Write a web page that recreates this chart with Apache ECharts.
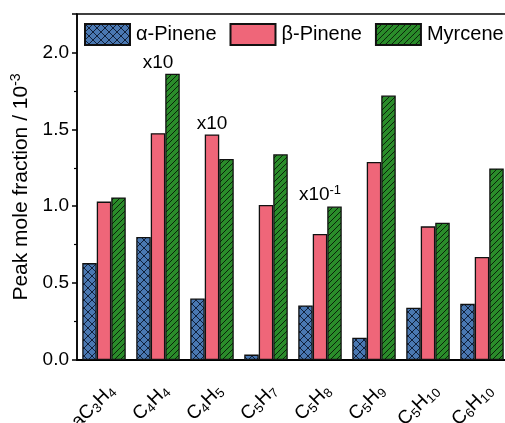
<!DOCTYPE html>
<html><head><meta charset="utf-8">
<script src="https://cdn.jsdelivr.net/npm/echarts@6/dist/echarts.min.js"></script>
<style>html,body{margin:0;padding:0;background:#fff}#c{width:505px;height:423px}</style>
</head><body><div id="c"></div>
<script>
const categories = ['aC{sub|3}H{sub|4}','C{sub|4}H{sub|4}','C{sub|4}H{sub|5}','C{sub|5}H{sub|7}','C{sub|5}H{sub|8}','C{sub|5}H{sub|9}','C{sub|5}H{sub|10}','C{sub|6}H{sub|10}'];
const alphaPinene = [0.63, 0.80, 0.40, 0.035, 0.355, 0.145, 0.34, 0.365];
const betaPinene  = [1.03, 1.475, 1.467, 1.008, 0.82, 1.288, 0.869, 0.67];
const myrcene     = [1.057, 1.862, 1.307, 1.338, 0.998, 1.72, 0.893, 1.246];
const yTicks = [0, 0.5, 1.0, 1.5, 2.0];
// annotations: [series, categoryIndex, text]
const notes = [['myrcene',1,'x10'],['beta',2,'x10'],['myrcene',4,'x10{sup|-1}']];
const FONT = 'Liberation Sans, Arial';

function pattern(bg, fg, cross, step){
  const c = document.createElement('canvas');
  c.width = step; c.height = step;
  const g = c.getContext('2d');
  g.fillStyle = bg; g.fillRect(0,0,step,step);
  g.strokeStyle = fg; g.lineWidth = 1;
  g.beginPath();
  for (let k=-1;k<=1;k++){
    g.moveTo(k*step, step); g.lineTo(k*step+step, 0);
    if (cross){ g.moveTo(k*step, 0); g.lineTo(k*step+step, step); }
  }
  g.stroke();
  return {image: c, repeat: 'repeat'};
}
const blueFill = pattern('#4a78b2', '#10203a', true, 8);
const greenFill = pattern('#2a8c2a', '#0a220a', false, 6);
const pinkFill = '#ef6679';

function mk(vals, key){
  return vals.map((v,i)=>{
    const n = notes.find(a=>a[0]===key && a[1]===i);
    if(!n) return v;
    return {value:v, label:{show:true, position:'top', formatter:n[2], distance:1,
      offset:[key==='myrcene'?-14.5:0,0], fontSize:19, color:'#000', fontFamily:FONT,
      rich:{sup:{fontSize:13, verticalAlign:'top', padding:[0,0,9,0], color:'#000', fontFamily:FONT}}}};
  });
}
const sty = c => ({color:c, borderColor:'#111', borderWidth:1.3});
const chart = echarts.init(document.getElementById('c'), null, {renderer:'canvas'});
chart.setOption({
  animation:false,
  textStyle:{fontFamily:FONT},
  grid:{left:77, top:14, width:432, height:346, outerBoundsMode:'none', containLabel:false,
    show:true, borderColor:'#000', borderWidth:1.5, backgroundColor:'transparent'},
  legend:{left:79, top:18, width:440, icon:'rect', itemWidth:45, itemHeight:21, itemGap:13, textStyle:{fontSize:20, color:'#000', fontFamily:FONT, padding:[0,0,0,1]},
    data:['α-Pinene','β-Pinene','Myrcene'], selectedMode:false},
  xAxis:{type:'category', data:categories,
    axisLine:{lineStyle:{color:'#000', width:2}}, axisTick:{alignWithLabel:true, length:6, lineStyle:{color:'#000', width:1.5}},
    axisLabel:{rotate:45, align:'right', verticalAlign:'top', fontSize:19, color:'#000', margin:20, interval:0,
      formatter:v=>v, rich:{sub:{fontSize:13, verticalAlign:'bottom', padding:[9,0,0,0], color:'#000', fontFamily:FONT}}}},
  yAxis:{type:'value', min:0, max:2.25, interval:0.5,
    name:'Peak mole fraction / 10{sup|-3}', nameLocation:'middle', nameGap:31, nameRotate:90,
    nameTextStyle:{fontSize:21, color:'#000', fontFamily:FONT, rich:{sup:{fontSize:14, verticalAlign:'top', padding:[0,0,10,0], color:'#000', fontFamily:FONT}}},
    axisLine:{show:true, lineStyle:{color:'#000', width:1.5}}, axisTick:{show:true, length:5, lineStyle:{color:'#000', width:1.5}},
    minorTick:{show:true, splitNumber:2, length:3, lineStyle:{color:'#000', width:1.2}},
    splitLine:{show:false},
    axisLabel:{fontSize:19, color:'#000', margin:8, formatter:v=> (yTicks.includes(v)? v.toFixed(1):'')}},
  series:[
    {name:'α-Pinene', type:'bar', data:mk(alphaPinene,'alpha'), barWidth:14.5, barGap:'0%', itemStyle:sty(blueFill)},
    {name:'β-Pinene', type:'bar', data:mk(betaPinene,'beta'), barWidth:14.5, barGap:'0%', itemStyle:sty(pinkFill)},
    {name:'Myrcene', type:'bar', data:mk(myrcene,'myrcene'), barWidth:14.5, barGap:'0%', itemStyle:sty(greenFill)}
  ]
});
</script></body></html>
